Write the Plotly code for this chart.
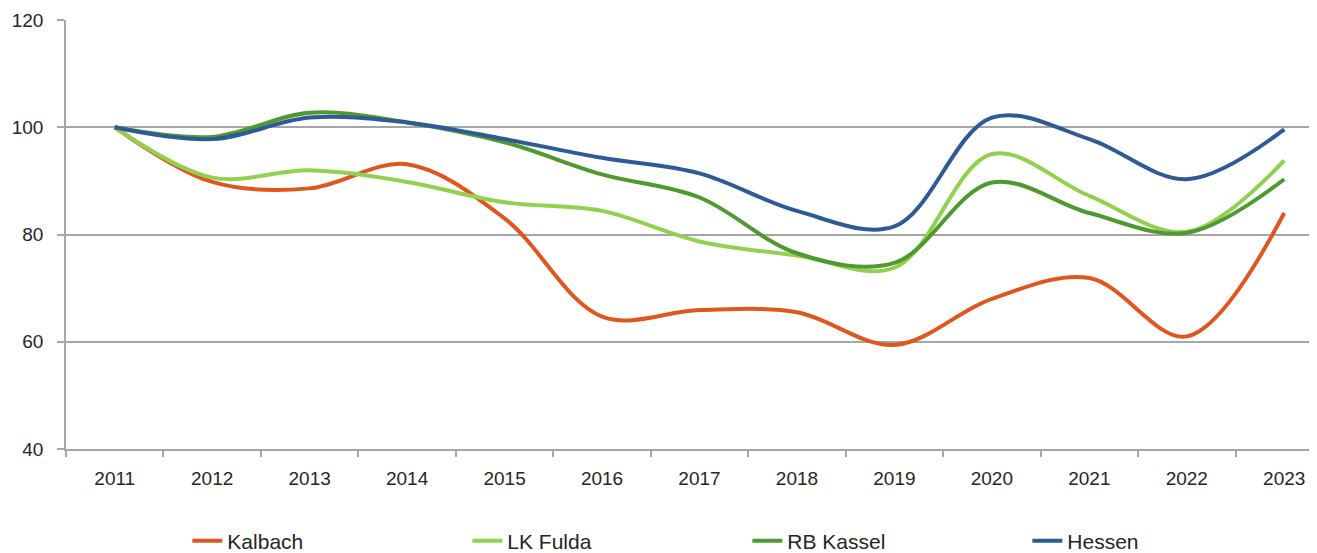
import plotly.graph_objects as go

years = ["2011", "2012", "2013", "2014", "2015", "2016", "2017",
         "2018", "2019", "2020", "2021", "2022", "2023"]
kalbach = [100, 89.8, 88.6, 93.1, 83.0, 64.7, 65.9, 65.5, 59.4, 68.0, 71.9, 61.0, 84.0]
lk_fulda = [100, 90.6, 92.0, 89.8, 86.0, 84.4, 78.7, 76.1, 73.8, 95.0, 87.2, 80.5, 93.8]
rb_kassel = [100, 98.2, 102.7, 100.9, 97.2, 91.2, 86.9, 76.5, 74.7, 89.7, 84.0, 80.3, 90.3]
hessen = [100, 97.8, 101.8, 100.9, 97.8, 94.3, 91.4, 84.4, 81.5, 101.8, 97.8, 90.3, 99.6]

series = [
    ("Kalbach", kalbach, "#E0561F"),
    ("LK Fulda", lk_fulda, "#92D050"),
    ("RB Kassel", rb_kassel, "#4E9A2F"),
    ("Hessen", hessen, "#2E5A95"),
]

FONT = "Liberation Sans Narrow, Arial Narrow, Liberation Sans, Arial, sans-serif"

fig = go.Figure()
for name, vals, color in series:
    fig.add_trace(go.Scatter(
        x=years, y=vals, name=name, mode="lines",
        line=dict(color=color, width=4, shape="spline", smoothing=1.0),
    ))

fig.update_layout(
    width=1317, height=553,
    margin=dict(l=58, r=8, t=12, b=112, autoexpand=False),
    paper_bgcolor="white", plot_bgcolor="white",
    font=dict(family=FONT, color="#262626", size=19),
    showlegend=True,
    legend=dict(
        orientation="h", x=0.097, xanchor="left", y=-0.2145, yanchor="middle",
        font=dict(family=FONT, size=21, color="#262626"),
        entrywidth=235, entrywidthmode="pixels",
        traceorder="normal", bgcolor="rgba(0,0,0,0)",
    ),
)

fig.update_xaxes(
    type="category", range=[-0.5, 12.336], automargin=False,
    tickson="boundaries", ticks="outside", ticklen=6, tickcolor="#A6A6A6", tickwidth=1.5,
    showline=True, linecolor="#A6A6A6", linewidth=1.5,
    showgrid=False, zeroline=False,
    tickfont=dict(family=FONT, size=19, color="#262626"),
    ticklabelstandoff=11,
)
fig.update_yaxes(
    range=[40, 120], tickvals=[40, 60, 80, 100, 120], automargin=False,
    ticks="outside", ticklen=7, tickcolor="#A6A6A6", tickwidth=1.5,
    showline=True, linecolor="#A6A6A6", linewidth=1.5,
    showgrid=True, gridcolor="#A6A6A6", gridwidth=1.5,
    zeroline=False,
    tickfont=dict(family=FONT, size=19, color="#262626"),
    ticklabelstandoff=10,
)

fig.write_html("out.html")
